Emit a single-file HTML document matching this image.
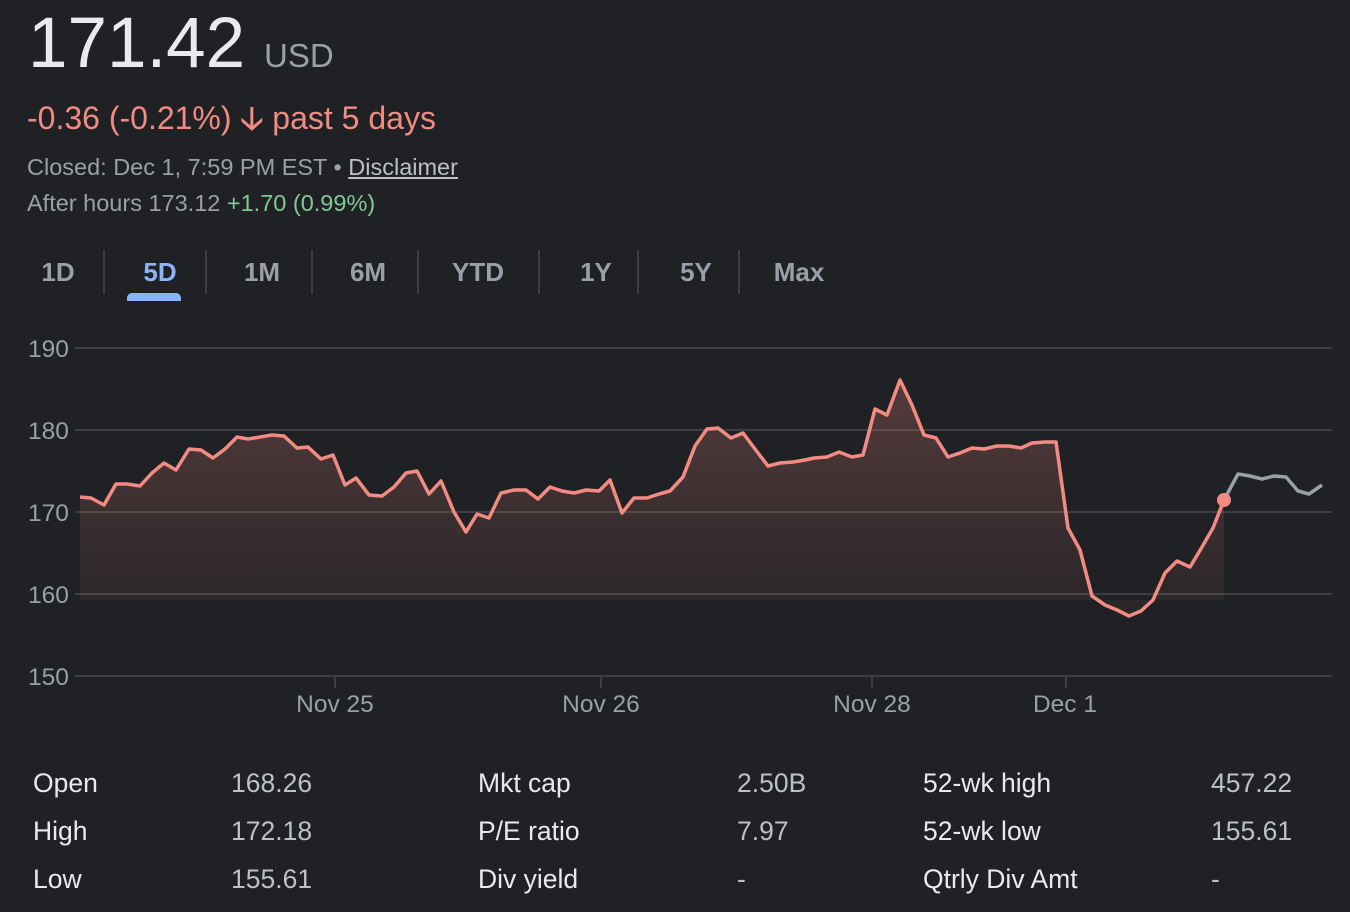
<!DOCTYPE html>
<html><head><meta charset="utf-8"><style>
body{margin:0;width:1350px;height:912px;background:#202124;overflow:hidden;font-family:"Liberation Sans",Arial,sans-serif;position:relative}
.a{position:absolute;white-space:nowrap}
.tab{position:absolute;top:257px;font-size:26px;font-weight:bold;color:#9aa0a6;transform:translateX(-50%)}
.sep{position:absolute;top:250px;width:2px;height:44px;background:#3c4043}
.st{position:absolute;font-size:26.5px;color:#e8eaed}
.sv{position:absolute;font-size:26.5px;color:#bdc1c6}
</style></head><body>
<div class="a" style="left:28px;top:3px;font-size:71px;color:#e8eaed">171.42</div>
<div class="a" style="left:264px;top:37px;font-size:33px;color:#9aa0a6">USD</div>
<div class="a" style="left:27px;top:96px;font-size:32px;color:#f28b82">-0.36 (-0.21%) <span style="font-weight:bold">&#129123;</span> past 5 days</div>
<div class="a" style="left:27px;top:154px;font-size:23.5px;color:#9aa0a6">Closed: Dec 1, 7:59 PM EST • <span style="text-decoration:underline;color:#bdc1c6">Disclaimer</span></div>
<div class="a" style="left:27px;top:190px;font-size:23.5px;color:#9aa0a6">After hours 173.12 <span style="color:#81c995">+1.70 (0.99%)</span></div>
<div class="tab" style="left:58px">1D</div>
<div class="tab" style="left:160px;color:#8ab4f8">5D</div>
<div class="tab" style="left:262px">1M</div>
<div class="tab" style="left:368px">6M</div>
<div class="tab" style="left:478px">YTD</div>
<div class="tab" style="left:596px">1Y</div>
<div class="tab" style="left:696px">5Y</div>
<div class="tab" style="left:799px">Max</div>
<div class="sep" style="left:103px"></div><div class="sep" style="left:205px"></div><div class="sep" style="left:311px"></div><div class="sep" style="left:417px"></div><div class="sep" style="left:538px"></div><div class="sep" style="left:637px"></div><div class="sep" style="left:738px"></div>
<div class="a" style="left:127px;top:293px;width:54px;height:8px;background:#8ab4f8;border-radius:5px 5px 0 0"></div>
<svg class="a" style="left:0;top:0" width="1350" height="912">
<defs><linearGradient id="g" x1="0" y1="0" x2="0" y2="1"><stop offset="0" stop-color="#f28b82" stop-opacity="0.25"/><stop offset="1" stop-color="#f28b82" stop-opacity="0.04"/></linearGradient></defs>
<g stroke="#3c4043" stroke-width="2"><line x1="75" y1="348" x2="1332" y2="348"/><line x1="75" y1="430" x2="1332" y2="430"/><line x1="75" y1="512" x2="1332" y2="512"/><line x1="75" y1="594" x2="1332" y2="594"/><line x1="75" y1="676" x2="1332" y2="676"/>
<line x1="335" y1="676" x2="335" y2="688"/><line x1="601" y1="676" x2="601" y2="688"/><line x1="872" y1="676" x2="872" y2="688"/><line x1="1066" y1="676" x2="1066" y2="688"/></g>
<g font-size="24.5" fill="#9aa0a6" font-family="Liberation Sans,sans-serif"><text x="28" y="357">190</text><text x="28" y="439">180</text><text x="28" y="521">170</text><text x="28" y="603">160</text><text x="28" y="685">150</text>
<g text-anchor="middle"><text x="335" y="712">Nov 25</text><text x="601" y="712">Nov 26</text><text x="872" y="712">Nov 28</text><text x="1065" y="712">Dec 1</text></g></g>
<polygon fill="url(#g)" points="80,497 91,498 104,505 116,484 127,484 140,486 152,473 164,463 176,470 189,449 201,450 213,458 225,449 237,437 248,439 260,437 272,435 284,436 297,448 308,447 321,459 333,455 345,485 356,478 369,495 382,496 394,487 406,473 417,471 429,494 441,481 454,512 466,532 477,514 489,518 501,493 514,490 526,490 538,499 550,487 562,491 574,493 586,490 599,491 610,480 622,513 634,498 647,498 659,494 670,491 683,477 695,446 707,429 718,428 731,438 743,433 755,449 768,466 780,463 793,462 805,460 814,458 827,457 839,452 852,457 863,455 875,409 887,415 900,380 912,405 924,435 936,438 948,457 960,453 972,448 984,449 997,446 1009,446 1021,448 1032,443 1045,442 1056,442 1068,528 1080,550 1092,596 1105,605 1117,610 1129,616 1141,611 1153,600 1165,573 1177,561 1190,567 1202,547 1213,528 1224,500 1224,600 80,600"/>
<polyline fill="none" stroke="#f28b82" stroke-width="3.5" stroke-linejoin="round" points="80,497 91,498 104,505 116,484 127,484 140,486 152,473 164,463 176,470 189,449 201,450 213,458 225,449 237,437 248,439 260,437 272,435 284,436 297,448 308,447 321,459 333,455 345,485 356,478 369,495 382,496 394,487 406,473 417,471 429,494 441,481 454,512 466,532 477,514 489,518 501,493 514,490 526,490 538,499 550,487 562,491 574,493 586,490 599,491 610,480 622,513 634,498 647,498 659,494 670,491 683,477 695,446 707,429 718,428 731,438 743,433 755,449 768,466 780,463 793,462 805,460 814,458 827,457 839,452 852,457 863,455 875,409 887,415 900,380 912,405 924,435 936,438 948,457 960,453 972,448 984,449 997,446 1009,446 1021,448 1032,443 1045,442 1056,442 1068,528 1080,550 1092,596 1105,605 1117,610 1129,616 1141,611 1153,600 1165,573 1177,561 1190,567 1202,547 1213,528 1224,500"/>
<polyline fill="none" stroke="#9aa0a6" stroke-width="3.5" stroke-linejoin="round" points="1224,500 1238,474 1250,476 1262,479 1274,476 1286,477 1298,491 1309,494 1322,485"/>
<circle cx="1224" cy="500" r="7" fill="#f28b82"/>
</svg>
<div class="st" style="left:33px;top:768px">Open</div><div class="sv" style="left:231px;top:768px">168.26</div>
<div class="st" style="left:478px;top:768px">Mkt cap</div><div class="sv" style="left:737px;top:768px">2.50B</div>
<div class="st" style="left:923px;top:768px">52-wk high</div><div class="sv" style="left:1211px;top:768px">457.22</div>
<div class="st" style="left:33px;top:816px">High</div><div class="sv" style="left:231px;top:816px">172.18</div>
<div class="st" style="left:478px;top:816px">P/E ratio</div><div class="sv" style="left:737px;top:816px">7.97</div>
<div class="st" style="left:923px;top:816px">52-wk low</div><div class="sv" style="left:1211px;top:816px">155.61</div>
<div class="st" style="left:33px;top:864px">Low</div><div class="sv" style="left:231px;top:864px">155.61</div>
<div class="st" style="left:478px;top:864px">Div yield</div><div class="sv" style="left:737px;top:864px">-</div>
<div class="st" style="left:923px;top:864px">Qtrly Div Amt</div><div class="sv" style="left:1211px;top:864px">-</div>
</body></html>
